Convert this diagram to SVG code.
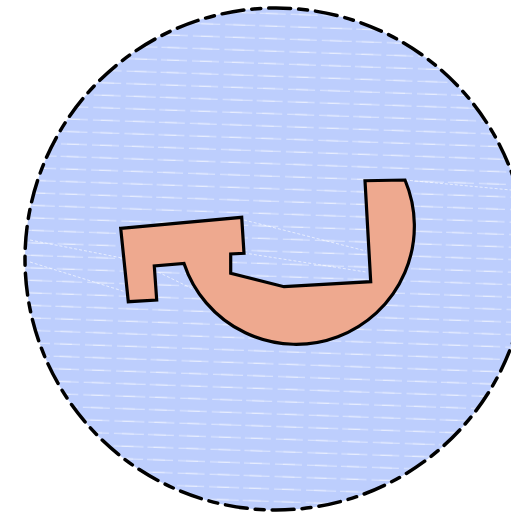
<svg xmlns="http://www.w3.org/2000/svg" width="511" height="517" viewBox="0 0 511 517">
<defs>
<pattern id="hatch" width="97" height="12.5" patternUnits="userSpaceOnUse" patternTransform="rotate(2)">
<rect width="97" height="12.5" fill="#bdcefd"/>
<line x1="0" y1="4" x2="97" y2="4" stroke="#ffffff" stroke-opacity="0.55" stroke-width="1" stroke-dasharray="27 5 30 4 26 5"/>
<line x1="0" y1="4" x2="97" y2="4" stroke="#ffffff" stroke-opacity="0.5" stroke-width="1" stroke-dasharray="0 8 12 20 12 20 12 13"/>
</pattern>
<style>
.disc{fill:url(#hatch);stroke:#000;stroke-width:3.5;stroke-dasharray:22 8 9 8;stroke-linecap:round}
.shape{fill:#eea98f;stroke:#000;stroke-width:3.2;stroke-linejoin:miter}
.stray{stroke:#ffffff;stroke-opacity:0.7;stroke-width:0.9;stroke-dasharray:3 2;fill:none}
</style>
</defs>
<g id="disc">
<circle class="disc" cx="276" cy="259" r="251"/>
<line class="stray" x1="244" y1="220" x2="366" y2="251"/>
<line class="stray" x1="244" y1="253" x2="366" y2="272"/>
<line class="stray" x1="30" y1="240" x2="122" y2="258"/>
<line class="stray" x1="30" y1="262" x2="126" y2="292"/>
<line class="stray" x1="158" y1="272" x2="195" y2="290"/>
<line class="stray" x1="405" y1="180" x2="511" y2="190"/>
</g>
<g id="hook">
<path class="shape" d="M120.7 228.3 L241.7 217.3 L244 253.3 L230.7 254 L230.7 273.3 L284 286.7 L370.7 281.7 L365 180.7 L405 180 A118.2 118.2 0 1 1 184 263.4 L154.3 266 L156.7 300 L128.3 301.7 Z"/>
</g>
</svg>
